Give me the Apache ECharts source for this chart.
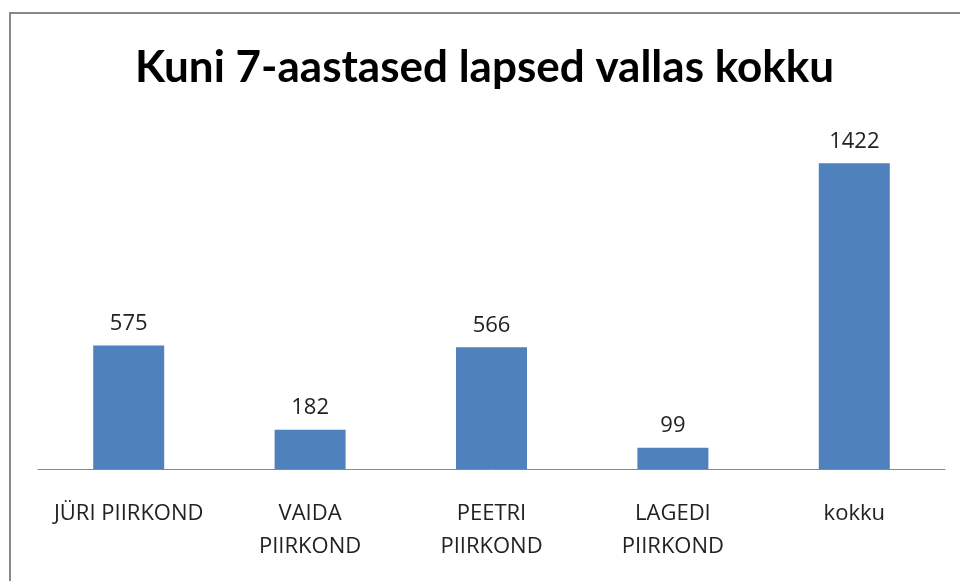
<!DOCTYPE html>
<html>
<head>
<meta charset="utf-8">
<script src="https://cdn.jsdelivr.net/npm/echarts@6/dist/echarts.min.js"></script>
<style>
  html, body { margin: 0; padding: 0; background: #fff; }
  #chart { width: 960px; height: 581px; }
</style>
</head>
<body>
<div id="chart"></div>
<script>
const categories = ["JÜRI PIIRKOND", "VAIDA\nPIIRKOND", "PEETRI\nPIIRKOND", "LAGEDI\nPIIRKOND", "kokku"];
const values = [575, 182, 566, 99, 1422];

const chart = echarts.init(document.getElementById("chart"));
chart.setOption({
  animation: false,
  title: {
    text: "Kuni 7-aastased lapsed vallas kokku",
    left: 130,
    top: 41,
    textStyle: { fontFamily: "Lato", fontWeight: "bold", fontSize: 44, color: "#000" },
  },
  graphic: [{
    type: "rect",
    shape: { x: 10, y: 13, width: 1000, height: 640 },
    style: { fill: "none", stroke: "#888", lineWidth: 2 },
  }],
  grid: { left: 38, right: 15, top: 125, bottom: 112 },
  xAxis: {
    type: "category",
    data: categories,
    axisLine: { lineStyle: { color: "#888", width: 1 } },
    axisTick: { show: false },
    axisLabel: {
      interval: 0, hideOverlap: false,
      color: "#222", fontFamily: "Open Sans", fontSize: 22, lineHeight: 33, margin: 28,
    },
  },
  yAxis: { type: "value", min: 0, max: 1600, show: false },
  series: [{
    type: "bar",
    data: values,
    barWidth: 71,
    itemStyle: { color: "#4F81BD" },
    label: { show: true, position: "top", distance: 11, color: "#222", fontFamily: "Open Sans", fontSize: 22 },
  }],
});
</script>
</body>
</html>
